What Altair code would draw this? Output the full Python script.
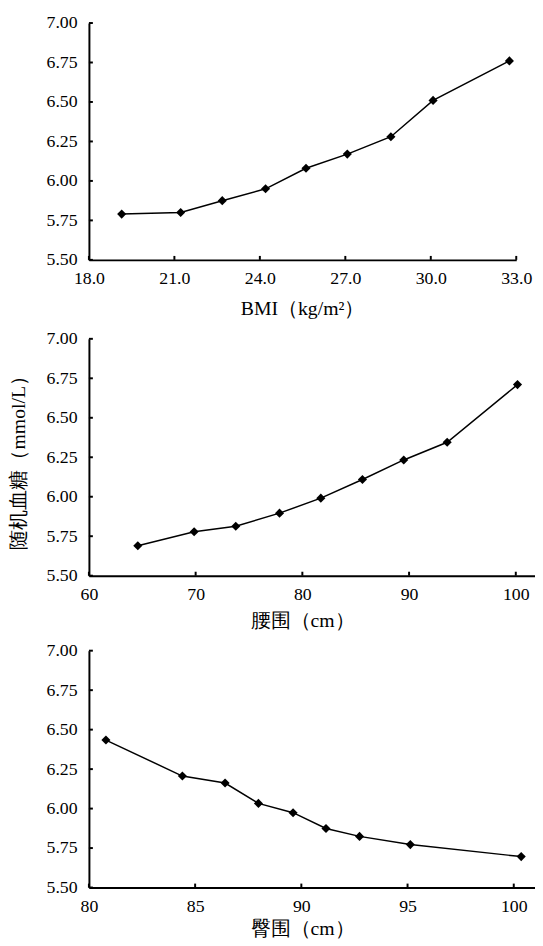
import altair as alt
import pandas as pd

# Panel 1: BMI
bmi_x = [19.15, 21.22, 22.68, 24.20, 25.62, 27.07, 28.60, 30.08, 32.76]
bmi_y = [5.79, 5.80, 5.875, 5.95, 6.08, 6.17, 6.28, 6.51, 6.76]
# Panel 2: waist
waist_x = [64.58, 69.86, 73.76, 77.86, 81.73, 85.63, 89.50, 93.57, 100.16]
waist_y = [5.69, 5.778, 5.813, 5.896, 5.991, 6.109, 6.233, 6.345, 6.71]
# Panel 3: hip
hip_x = [80.8, 84.4, 86.41, 87.98, 89.61, 91.16, 92.74, 95.13, 100.35]
hip_y = [6.434, 6.206, 6.162, 6.033, 5.974, 5.874, 5.824, 5.772, 5.696]

y_ticks = [5.50, 5.75, 6.00, 6.25, 6.50, 6.75, 7.00]
bmi_ticks = [18.0, 21.0, 24.0, 27.0, 30.0, 33.0]
waist_ticks = [60, 70, 80, 90, 100]
hip_ticks = [80, 85, 90, 95, 100]

LFONT = "Liberation Serif"
TFONT = "Liberation Serif"
H = 240
FS = 18
TFS = 20


def panel(xs, ys, xticks, xdomain, xfmt, xtitle, width, ytitle, title_pad, title_x):
    df = pd.DataFrame({"x": xs, "y": ys})
    common = dict(domainColor="black", domainWidth=2, ticks=False, grid=False,
                  labelFont=LFONT, labelFontSize=FS, labelColor="black",
                  labelOverlap=False, labelFlush=False,
                  titleFont=TFONT, titleFontSize=TFS, titleColor="black",
                  titleFontWeight="normal")
    xaxis = alt.Axis(values=xticks, format=xfmt, title=xtitle, titlePadding=title_pad,
                     titleX=title_x, labelPadding=10, **common)
    yaxis = alt.Axis(values=y_ticks, format=".2f", title=ytitle, labelPadding=12,
                     titlePadding=18, **common)
    xs_ = alt.Scale(domain=xdomain, nice=False, zero=False)
    ys_ = alt.Scale(domain=[5.5, 7.0], nice=False, zero=False)
    base = alt.Chart(df)
    line = base.mark_line(color="black", strokeWidth=1.5).encode(
        x=alt.X("x:Q", scale=xs_, axis=xaxis),
        y=alt.Y("y:Q", scale=ys_, axis=yaxis),
    )
    pts = base.mark_point(shape="diamond", filled=True, color="black", size=85, opacity=1).encode(
        x=alt.X("x:Q", scale=xs_, axis=xaxis),
        y=alt.Y("y:Q", scale=ys_, axis=yaxis),
    )
    ytk = alt.Chart(pd.DataFrame({"t": y_ticks})).mark_rule(color="black", strokeWidth=2).encode(
        y=alt.Y("t:Q", scale=ys_, axis=yaxis),
        x=alt.value(0),
        x2=alt.value(4),
    )
    xtk = alt.Chart(pd.DataFrame({"t": xticks})).mark_rule(color="black", strokeWidth=2).encode(
        x=alt.X("t:Q", scale=xs_, axis=xaxis),
        y=alt.value(H),
        y2=alt.value(H - 4),
    )
    return alt.layer(line, pts, ytk, xtk).properties(width=width, height=H)


p1 = panel(bmi_x, bmi_y, bmi_ticks, [18, 33], ".1f", "BMI（kg/m²）", 433, None, 11, 216)
p2 = panel(waist_x, waist_y, waist_ticks, [60, 101.8], "d", "腰围（cm）", 452, "随机血糖（mmol/L）", 7, 216)
p3 = panel(hip_x, hip_y, hip_ticks, [80, 101], "d", "臀围（cm）", 452, None, 4, 216)

chart = alt.vconcat(p1, p2, p3, spacing=12).properties(
    padding={"left": 0, "top": 0, "right": 0, "bottom": 0}
).configure_view(stroke=None)

chart.save("out.html", embed_options={"renderer": "svg", "actions": False})
